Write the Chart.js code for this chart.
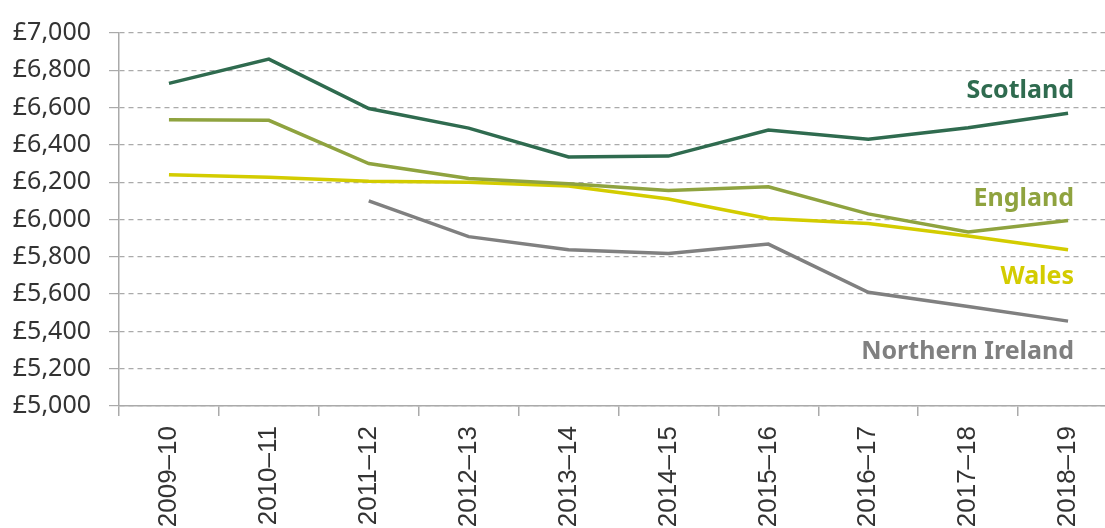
<!DOCTYPE html>
<html>
<head>
<meta charset="utf-8">
<script src="https://cdn.jsdelivr.net/npm/chart.js@4.4.1/dist/chart.umd.min.js"></script>
<style>
    html, body { margin: 0; padding: 0; background: #fff; overflow: hidden; }
    #wrap { width: 1120px; height: 528px; }
</style>
</head>
<body>
<div id="wrap"><canvas id="chart"></canvas></div>
<script>
// Per-pupil spending by nation
const years = ['2009–10', '2010–11', '2011–12', '2012–13', '2013–14', '2014–15', '2015–16', '2016–17', '2017–18', '2018–19'];
const scotland = [6730, 6860, 6595, 6490, 6335, 6340, 6480, 6430, 6492, 6570];
const england = [6535, 6532, 6300, 6220, 6192, 6155, 6175, 6030, 5933, 5995];
const wales = [6240, 6227, 6205, 6200, 6179, 6110, 6005, 5978, 5912, 5838];
const northernIreland = [null, null, 6100, 5908, 5838, 5818, 5868, 5610, 5533, 5455];

const yMin = 5000;
const yMax = 7000;
const yStep = 200;

// end labels: text, colour, value on the y axis where the label sits
const endLabels = [
    { text: 'Scotland', color: '#2f6b4f', value: 6690 },
    { text: 'England', color: '#8fa33f', value: 6108 },
    { text: 'Wales', color: '#d3cc00', value: 5692 },
    { text: 'Northern Ireland', color: '#808080', value: 5292 }
];

const endLabelPlugin = {
    id: 'endLabels',
    afterDatasetsDraw(chart) {
        const ctx = chart.ctx;
        const x = chart.scales.x.getPixelForValue(years.length - 1) + 6;
        ctx.save();
        ctx.font = 'bold 25px "Noto Sans"';
        ctx.textAlign = 'right';
        ctx.textBaseline = 'middle';
        endLabels.forEach(l => {
            ctx.fillStyle = l.color;
            ctx.fillText(l.text, x, chart.scales.y.getPixelForValue(l.value));
        });
        ctx.restore();
    }
};

function line(label, data, color) {
    return {
        label,
        data,
        borderColor: color,
        backgroundColor: color,
        borderWidth: 3.5,
        pointRadius: 0,
        tension: 0,
        spanGaps: false
    };
}

function draw() {
    new Chart(document.getElementById('chart'), {
        type: 'line',
        data: {
            labels: years,
            datasets: [
                line('Scotland', scotland, '#2f6b4f'),
                line('England', england, '#8fa33f'),
                line('Wales', wales, '#d3cc00'),
                line('Northern Ireland', northernIreland, '#808080')
            ]
        },
        options: {
            responsive: true,
            maintainAspectRatio: false,
            animation: false,
            layout: { padding: { top: 27, right: 2, left: 0, bottom: 0 } },
            plugins: { legend: { display: false }, tooltip: { enabled: false } },
            scales: {
                x: {
                    offset: true,
                    grid: {
                        offset: true,
                        drawOnChartArea: false,
                        color: '#aaaaaa',
                        tickLength: 10,
                        lineWidth: 1.5
                    },
                    border: { color: '#aaaaaa', width: 1.5 },
                    ticks: {
                        color: '#333333',
                        font: { family: '"Liberation Sans", Arial', size: 26 },
                        minRotation: 90,
                        maxRotation: 90,
                        padding: 10,
                        autoSkip: false
                    },
                    afterFit(scale) { scale.height = 122; }
                },
                y: {
                    min: yMin,
                    max: yMax,
                    grid: {
                        color: '#aaaaaa',
                        lineWidth: 1.2,
                        tickLength: 10,
                        tickBorderDash: [],
                        tickColor: '#aaaaaa'
                    },
                    border: { color: '#aaaaaa', width: 1.5, dash: [5, 4] },
                    ticks: {
                        stepSize: yStep,
                        color: '#333333',
                        font: { family: '"Noto Sans"', size: 25 },
                        padding: 18,
                        callback: v => '£' + v.toLocaleString('en-GB')
                    },
                    afterFit(scale) { scale.width = 119; }
                }
            }
        },
        plugins: [endLabelPlugin]
    });
}

Promise.all([
    document.fonts.load('bold 25px "Noto Sans"'),
    document.fonts.load('25px "Noto Sans"'),
    document.fonts.load('26px "Liberation Sans"')
]).then(draw, draw);
</script>
</body>
</html>
